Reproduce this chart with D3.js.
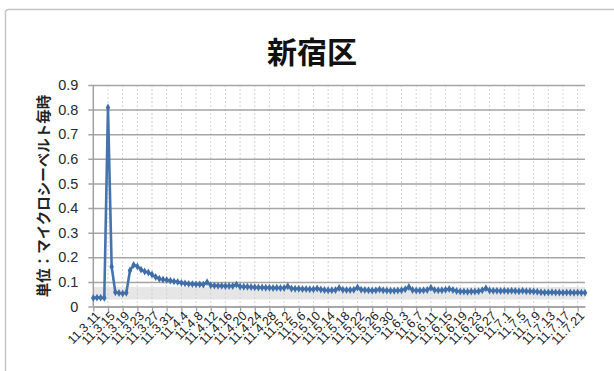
<!DOCTYPE html>
<html>
<head>
<meta charset="utf-8">
<script src="https://cdn.jsdelivr.net/npm/d3@7"></script>
<style>
  body { margin: 0; background: #fff; }
  svg text { font-family: "Liberation Sans", Arial, sans-serif; }
  .jp { font-family: "Noto Sans CJK JP", sans-serif; font-weight: bold; }
</style>
</head>
<body>
<div id="chart"></div>
<script>
// daily readings, 2011-03-11 .. 2011-07-23 (uSv/h)
const startDate = "2011-03-11"
const endDate = "2011-07-23"
const values = [
  0.035, 0.036, 0.036, 0.035, 0.809, 0.162, 0.058, 0.055, 0.053, 0.056,
  0.146, 0.169, 0.163, 0.150, 0.142, 0.138, 0.130, 0.120, 0.113, 0.110,
  0.108, 0.105, 0.102, 0.100, 0.096, 0.094, 0.092, 0.091, 0.090, 0.090,
  0.089, 0.099, 0.086, 0.085, 0.084, 0.084, 0.083, 0.083, 0.083, 0.089,
  0.081, 0.080, 0.080, 0.079, 0.078, 0.077, 0.077, 0.076, 0.076, 0.075,
  0.076, 0.075, 0.075, 0.082, 0.073, 0.072, 0.072, 0.071, 0.071, 0.070,
  0.070, 0.073, 0.069, 0.067, 0.066, 0.066, 0.067, 0.075, 0.068, 0.067,
  0.067, 0.068, 0.077, 0.068, 0.067, 0.066, 0.065, 0.066, 0.069, 0.066,
  0.065, 0.064, 0.064, 0.065, 0.066, 0.070, 0.079, 0.067, 0.065, 0.065,
  0.066, 0.067, 0.076, 0.067, 0.066, 0.066, 0.068, 0.071, 0.067, 0.063,
  0.061, 0.061, 0.060, 0.061, 0.061, 0.062, 0.066, 0.074, 0.065, 0.064,
  0.064, 0.063, 0.064, 0.063, 0.064, 0.063, 0.062, 0.064, 0.062, 0.062,
  0.061, 0.060, 0.058, 0.057, 0.057, 0.058, 0.057, 0.057, 0.056, 0.057,
  0.057, 0.056, 0.057, 0.056, 0.056
]
const tickLabels = [
  "11.3.11", "11.3.15", "11.3.19", "11.3.23", "11.3.27", "11.3.31",
  "11.4.4", "11.4.8", "11.4.12", "11.4.16", "11.4.20", "11.4.24", "11.4.28",
  "11.5.2", "11.5.6", "11.5.10", "11.5.14", "11.5.18", "11.5.22", "11.5.26", "11.5.30",
  "11.6.3", "11.6.7", "11.6.11", "11.6.15", "11.6.19", "11.6.23", "11.6.27",
  "11.7.1", "11.7.5", "11.7.9", "11.7.13", "11.7.17", "11.7.21"
]
const yTicks = [0, 0.1, 0.2, 0.3, 0.4, 0.5, 0.6, 0.7, 0.8, 0.9]
const normalRange = [0.028, 0.079]
const title = "新宿区"
const yTitle = "単位：マイクロシーベルト毎時"

const W = 614, H = 371
const plotL = 93.3, plotR = 585, plotT = 85, plotB = 306.5

const parse = d3.utcParse("%Y-%m-%d")
const dates = d3.utcDay.range(parse(startDate), d3.utcDay.offset(parse(endDate), 1))
const data = values.map((v, i) => ({ date: dates[i], v: v }))
const tickDates = tickLabels.map(s => {
  const p = s.split(".")
  return new Date(Date.UTC(2000 + +p[0], +p[1] - 1, +p[2]))
})

const x = d3.scaleUtc().domain([parse(startDate), parse(endDate)]).range([plotL, plotR])
const y = d3.scaleLinear().domain([0, 0.9]).range([plotB, plotT])

const svg = d3.select("#chart").append("svg")
  .attr("width", W).attr("height", H)

// frame
svg.append("rect")
  .attr("x", 5.5).attr("y", 9.5)
  .attr("width", 640).attr("height", 400)
  .attr("rx", 3)
  .attr("fill", "#fff").attr("stroke", "#c4c4c4").attr("stroke-width", 1.5)

svg.append("text")
  .attr("class", "jp")
  .attr("x", 312).attr("y", 63)
  .attr("text-anchor", "middle")
  .attr("font-size", 30)
  .attr("fill", "#111")
  .text(title)

svg.append("text")
  .attr("class", "jp")
  .attr("transform", "translate(49,196) rotate(-90)")
  .attr("text-anchor", "middle")
  .attr("font-size", 14.5)
  .attr("fill", "#222")
  .text(yTitle)

// normal range band
svg.append("rect")
  .attr("x", plotL).attr("width", plotR - plotL)
  .attr("y", y(normalRange[1]))
  .attr("height", y(normalRange[0]) - y(normalRange[1]))
  .attr("fill", "#e6e6e6")

// vertical gridlines
svg.append("g")
  .selectAll("line")
  .data(tickDates.slice(1))
  .enter().append("line")
    .attr("x1", d => x(d)).attr("x2", d => x(d))
    .attr("y1", plotT).attr("y2", plotB)
    .attr("stroke", "#d3d3d3")
    .attr("stroke-dasharray", "2,2")

// y axis with gridlines
const yAxis = svg.append("g")
  .attr("transform", "translate(" + plotL + ",0)")
  .call(d3.axisLeft(y).tickValues(yTicks)
    .tickSize(-(plotR - plotL)).tickPadding(0)
    .tickFormat(d => d === 0 ? "0" : d3.format(".1f")(d)))
yAxis.select(".domain").remove()
yAxis.selectAll(".tick line")
  .attr("x1", -5)
  .attr("stroke", "#a5a5a5").attr("stroke-width", 1.5)
yAxis.selectAll(".tick text")
  .attr("x", -15)
  .attr("font-size", 14.5)
  .attr("fill", "#2a2a2a")
svg.append("line")
  .attr("x1", plotL).attr("x2", plotL)
  .attr("y1", plotT).attr("y2", plotB)
  .attr("stroke", "#a0a0a0").attr("stroke-width", 1.5)

// x axis
const xAxis = svg.append("g")
  .attr("transform", "translate(0," + plotB + ")")
  .call(d3.axisBottom(x).tickValues(tickDates).tickSize(5).tickSizeOuter(0)
    .tickFormat((d, i) => tickLabels[i]))
xAxis.select(".domain").attr("stroke", "#a0a0a0").attr("stroke-width", 1.5)
xAxis.selectAll(".tick line").attr("stroke", "#a0a0a0").attr("stroke-width", 1.3)
xAxis.selectAll(".tick text")
  .attr("font-size", 12.5)
  .attr("fill", "#222")
  .attr("text-anchor", "end")
  .attr("transform", "translate(4,7) rotate(-45)")
  .attr("x", 0).attr("y", 0).attr("dy", "0.35em")

// series
const line = d3.line().x(d => x(d.date)).y(d => y(d.v))
svg.append("path")
  .datum(data)
  .attr("fill", "none")
  .attr("stroke", "#4574ad")
  .attr("stroke-width", 2.6)
  .attr("stroke-linejoin", "round")
  .attr("d", line)

svg.append("g")
  .selectAll("path")
  .data(data)
  .enter().append("path")
    .attr("transform", d => "translate(" + x(d.date) + "," + y(d.v) + ")")
    .attr("d", d3.symbol(d3.symbolDiamond, 18))
    .attr("fill", "#3f6ea8")
</script>
</body>
</html>
